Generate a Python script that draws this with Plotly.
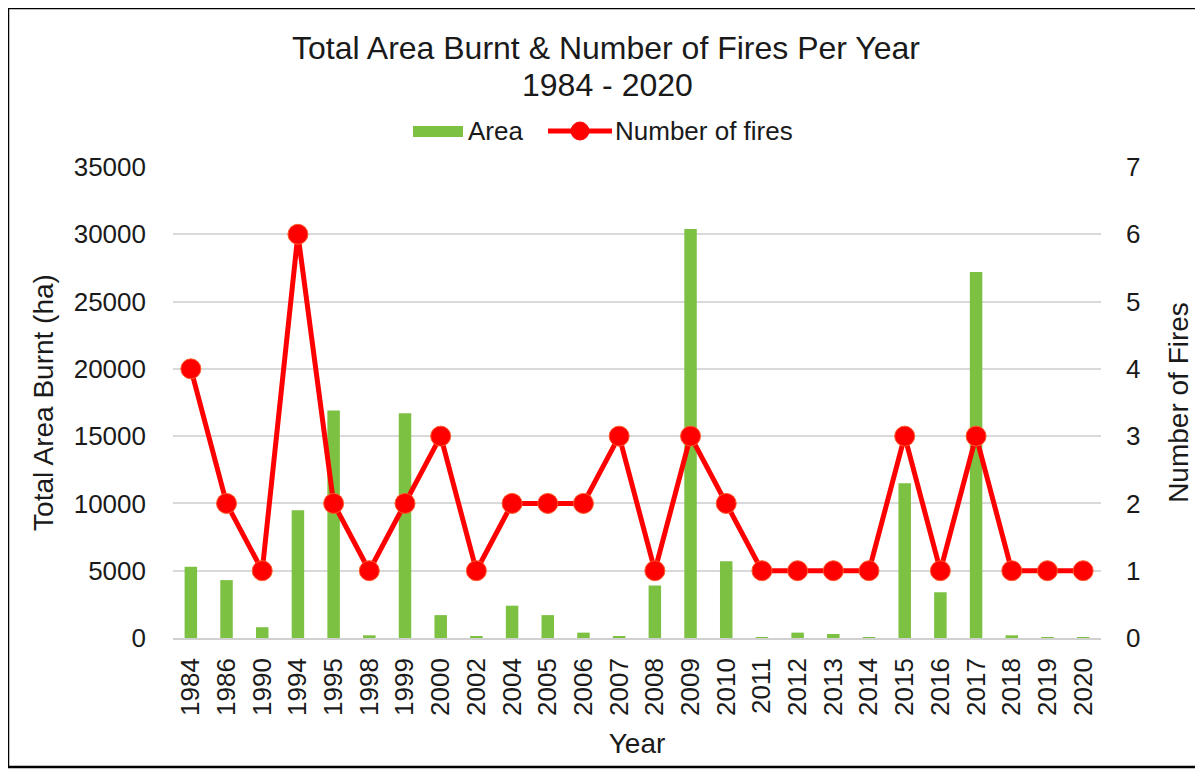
import plotly.graph_objects as go

years = ["1984", "1986", "1990", "1994", "1995", "1998", "1999", "2000", "2002", "2004",
         "2005", "2006", "2007", "2008", "2009", "2010", "2011", "2012", "2013", "2014",
         "2015", "2016", "2017", "2018", "2019", "2020"]
area_ha = [5300, 4300, 800, 9500, 16900, 200, 16700, 1700, 150, 2400,
           1700, 400, 150, 3900, 30400, 5700, 50, 400, 300, 50,
           11500, 3400, 27200, 200, 50, 30]
num_fires = [4, 2, 1, 6, 2, 1, 2, 3, 1, 2,
             2, 2, 3, 1, 3, 2, 1, 1, 1, 1,
             3, 1, 3, 1, 1, 1]

title_line1 = "Total Area Burnt & Number of Fires Per Year"
title_line2 = "1984 - 2020"
legend_labels = ["Area", "Number of fires"]

FONT = "Liberation Sans, Arial, sans-serif"
TXT = "#1a1a1a"
GREEN = "#7cc142"
RED = "#ff0000"

fig = go.Figure()
fig.add_trace(go.Bar(
    x=years, y=area_ha, name=legend_labels[0],
    marker=dict(color=GREEN, line=dict(width=0)),
    width=0.35,
))
fig.add_trace(go.Scatter(
    x=years, y=num_fires, name=legend_labels[1], yaxis="y2",
    mode="lines+markers",
    line=dict(color=RED, width=5),
    marker=dict(color=RED, size=20, line=dict(color="#ff5a2a", width=1)),
))

# the page has an 8px body margin; figure coords = page coords - 8
OFF = 8
W, H = 1195, 762
L, R, T, B = 165, 102, 159, 132
PW, PH = W - L - R, H - T - B


def px(xpage):
    return (xpage - OFF - L) / PW


def py(ypage):
    return (H - B - (ypage - OFF)) / PH


shapes = [
    # outer frame
    dict(type="rect", xref="paper", yref="paper",
         x0=px(8), x1=px(1198), y0=py(767), y1=py(8),
         line=dict(color="black", width=2.5), fillcolor="rgba(0,0,0,0)", layer="below"),
    # legend key: Area
    dict(type="rect", xref="paper", yref="paper",
         x0=px(413), x1=px(463), y0=py(137), y1=py(126),
         line=dict(width=0), fillcolor=GREEN),
    # legend key: Number of fires
    dict(type="line", xref="paper", yref="paper",
         x0=px(548), x1=px(612), y0=py(131), y1=py(131),
         line=dict(color=RED, width=5)),
    dict(type="circle", xref="paper", yref="paper",
         x0=px(571), x1=px(589), y0=py(140), y1=py(122),
         line=dict(color=RED, width=1), fillcolor=RED),
]

annotations = [
    dict(text=title_line2, xref="paper", yref="paper",
         x=px(607), y=py(85), xanchor="center", yanchor="middle", showarrow=False,
         font=dict(family=FONT, size=32, color=TXT)),
    dict(text=legend_labels[0], xref="paper", yref="paper",
         x=px(466), y=py(131), xanchor="left", yanchor="middle", showarrow=False,
         font=dict(family=FONT, size=26, color=TXT)),
    dict(text=legend_labels[1], xref="paper", yref="paper",
         x=px(613), y=py(131), xanchor="left", yanchor="middle", showarrow=False,
         font=dict(family=FONT, size=26, color=TXT)),
]

fig.update_layout(
    width=W, height=H,
    margin=dict(l=L, r=R, t=T, b=B, pad=0),
    paper_bgcolor="white", plot_bgcolor="white",
    font=dict(family=FONT, size=26, color=TXT),
    title=dict(
        text=title_line1,
        x=(606 - OFF) / W, xanchor="center", y=1 - (48 - OFF) / H, yanchor="middle",
        font=dict(family=FONT, size=32, color=TXT),
    ),
    showlegend=False,
    xaxis=dict(
        type="category", categoryorder="array", categoryarray=years,
        range=[-0.5, len(years) - 0.5],
        tickangle=-90, tickfont=dict(size=26),
        showgrid=False, showline=True, linecolor="#d0d0d0", linewidth=1.5,
        ticks="", ticklabelstandoff=8, automargin=False,
        title=dict(text="Year", font=dict(size=28), standoff=18),
    ),
    yaxis=dict(
        range=[0, 35000], dtick=5000, tick0=0, tickformat="d",
        showgrid=True, gridcolor="#d9d9d9", gridwidth=1.5,
        zeroline=False, showline=False, ticks="",
        tickfont=dict(size=26), ticklabelstandoff=26, automargin=False,
        title=dict(text="Total Area Burnt (ha)", font=dict(size=28), standoff=11),
    ),
    yaxis2=dict(
        range=[0, 7], dtick=1, tick0=0, overlaying="y", side="right",
        showgrid=False, zeroline=False, showline=False, ticks="",
        tickfont=dict(size=26), ticklabelstandoff=24, automargin=False,
        title=dict(text="Number of Fires", font=dict(size=28), standoff=28),
    ),
    shapes=shapes,
    annotations=annotations,
)

fig.write_html("out.html")
